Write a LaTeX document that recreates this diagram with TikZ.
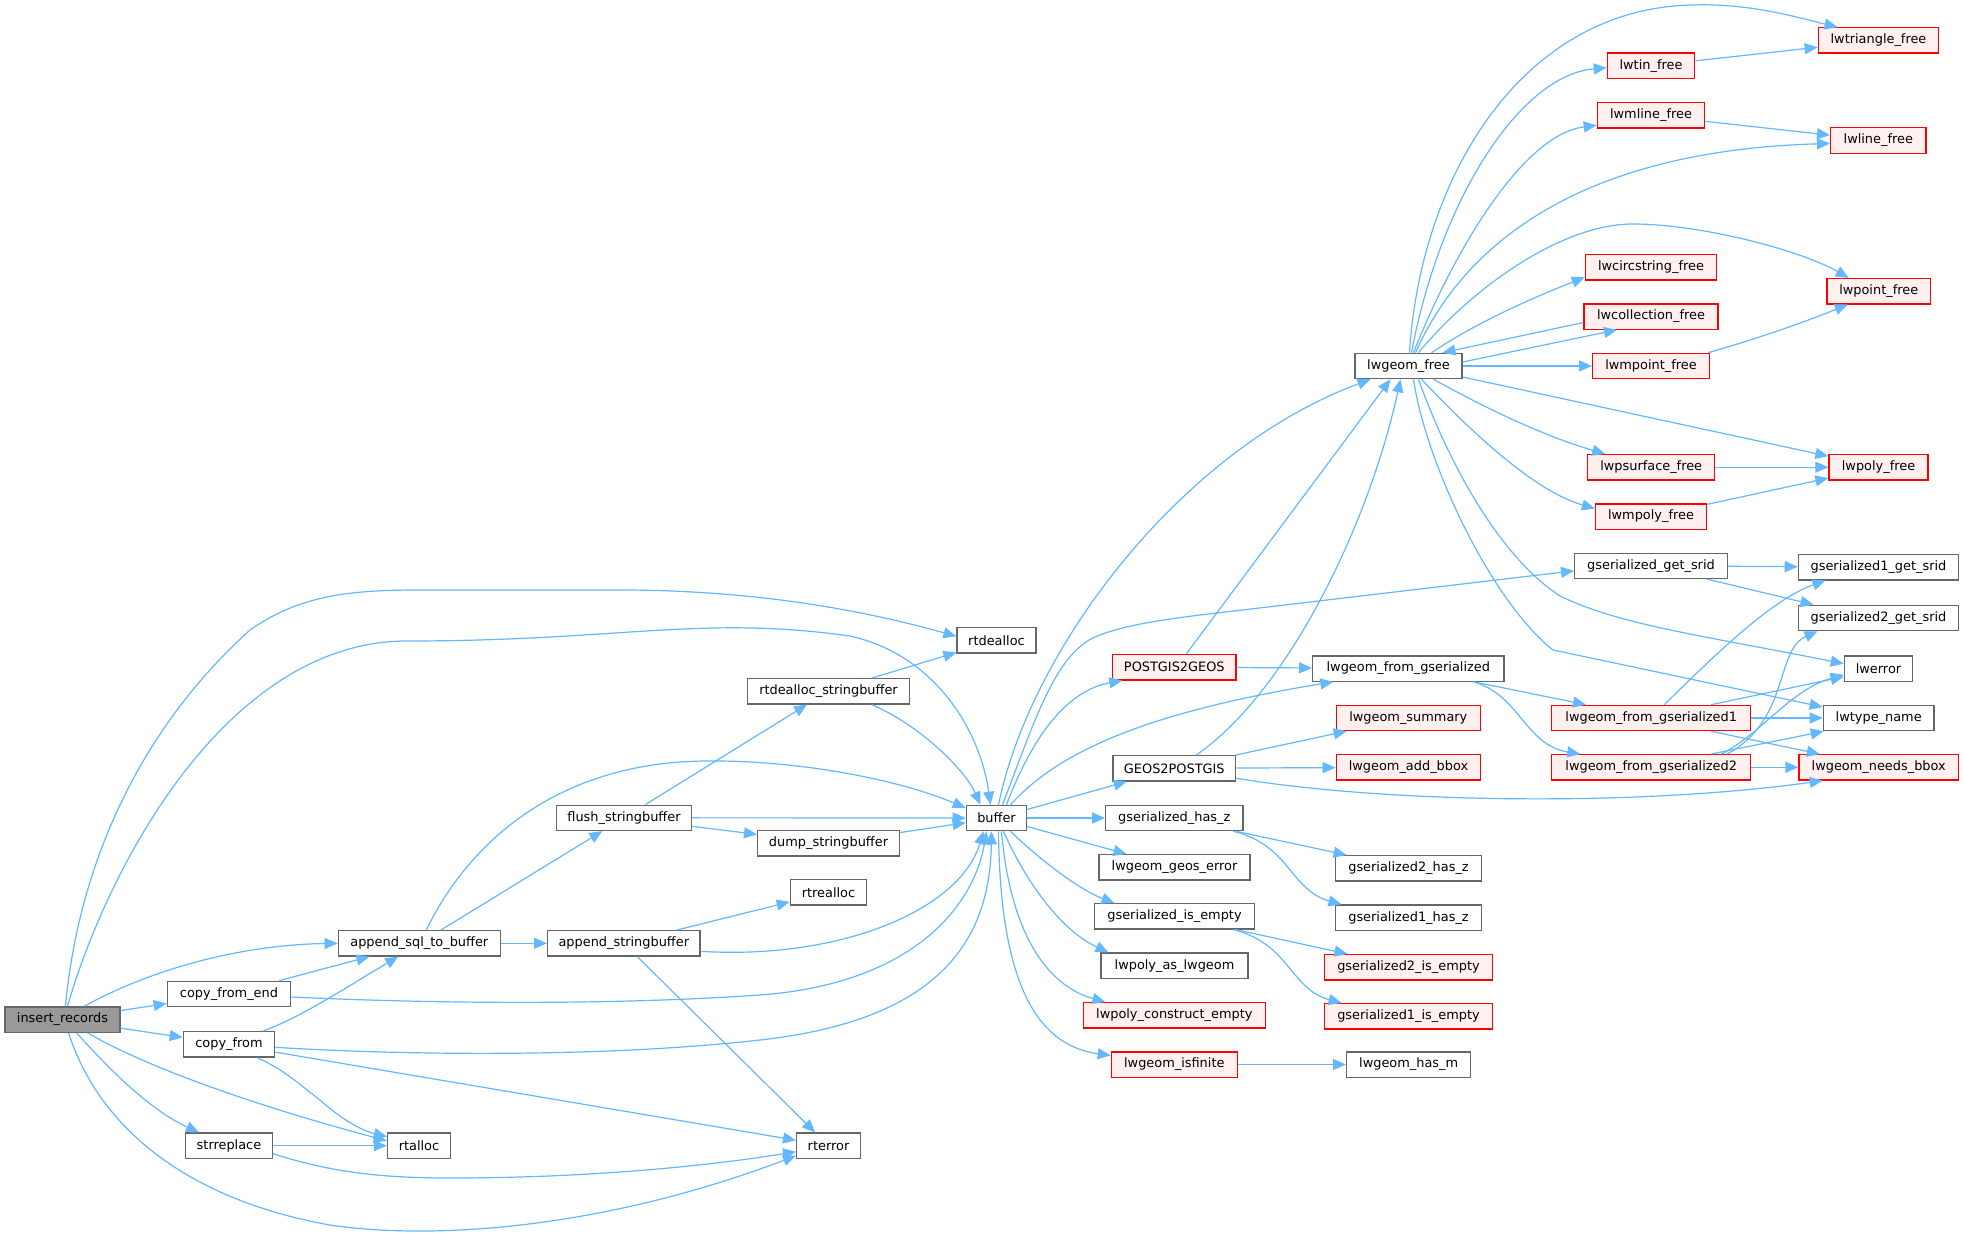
\documentclass[tikz,border=0pt]{standalone}
\usepackage{fontspec}
\setmainfont{DejaVu Sans}
\usetikzlibrary{arrows.meta}
\definecolor{edgecol}{HTML}{63B8FF}
\definecolor{boxgray}{HTML}{666666}
\definecolor{boxred}{HTML}{FF0000}
\definecolor{redfill}{HTML}{FFF0F0}
\definecolor{irfill}{HTML}{999999}
\begin{document}
\begin{tikzpicture}[x=1pt,y=-1pt,
  fn/.style={draw=boxgray, fill=white, line width=1.3pt, rectangle, minimum height=25.3pt, inner sep=0pt, font=\fontsize{12.9}{15}\selectfont, text=black},
  rfn/.style={fn, draw=boxred, fill=redfill},
  e/.style={draw=edgecol, line width=1.2pt, -{Triangle[length=13pt,width=11pt]}}]
\fill[white] (0,0) rectangle (1964,1236);
\useasboundingbox (0,0) rectangle (1964,1236);
% nodes
\node[fn, fill=irfill, minimum width=115pt] (ir) at (62.5,1019.5) {insert\_records};
\node[fn, minimum width=123.3pt] (cfe) at (229,994) {copy\_from\_end};
\node[fn, minimum width=91.3pt] (cf) at (229,1044.3) {copy\_from};
\node[fn, minimum width=87pt] (sr) at (229,1145.7) {strreplace};
\node[fn, minimum width=162pt] (asb) at (419.3,943.3) {append\_sql\_to\_buffer};
\node[fn, minimum width=63pt] (rta) at (419,1145.7) {rtalloc};
\node[fn, minimum width=79pt] (rtd) at (996.5,640.3) {rtdealloc};
\node[fn, minimum width=161.7pt] (rds) at (828.5,691.2) {rtdealloc\_stringbuffer};
\node[fn, minimum width=135.3pt] (fsb) at (624,817.8) {flush\_stringbuffer};
\node[fn, minimum width=141.7pt] (dsb) at (828.5,843.3) {dump\_stringbuffer};
\node[fn, minimum width=76.3pt] (rtr) at (828.5,892.2) {rtrealloc};
\node[fn, minimum width=152.3pt] (astb) at (623.8,943.3) {append\_stringbuffer};
\node[fn, minimum width=63.7pt] (rte) at (828.5,1145.7) {rterror};
\node[fn, minimum width=60.3pt] (buf) at (996.5,818) {buffer};
\node[rfn, minimum width=123.3pt] (p2g) at (1174.3,667.2) {POSTGIS2GEOS};
\node[fn, minimum width=122.7pt] (g2p) at (1174.3,768.3) {GEOS2POSTGIS};
\node[fn, minimum width=137.3pt] (ghz) at (1174.3,818) {gserialized\_has\_z};
\node[fn, minimum width=151pt] (lge) at (1174.5,867.3) {lwgeom\_geos\_error};
\node[fn, minimum width=160.3pt] (gie) at (1174.5,916.3) {gserialized\_is\_empty};
\node[fn, minimum width=147pt] (lpal) at (1174.5,965.7) {lwpoly\_as\_lwgeom};
\node[rfn, minimum width=182pt] (lpce) at (1174.3,1015.3) {lwpoly\_construct\_empty};
\node[rfn, minimum width=126pt] (lgi) at (1174.3,1064.5) {lwgeom\_isfinite};
\node[fn, minimum width=124pt] (lhm) at (1408.7,1064.5) {lwgeom\_has\_m};
\node[fn, minimum width=145.7pt] (g2hz) at (1408.5,868.3) {gserialized2\_has\_z};
\node[fn, minimum width=145.7pt] (g1hz) at (1408.5,917.7) {gserialized1\_has\_z};
\node[rfn, minimum width=168.3pt] (g2ie) at (1408.5,967.2) {gserialized2\_is\_empty};
\node[rfn, minimum width=168.3pt] (g1ie) at (1408.5,1016.3) {gserialized1\_is\_empty};
\node[fn, minimum width=191.3pt] (lfg) at (1408.3,668.5) {lwgeom\_from\_gserialized};
\node[rfn, minimum width=144pt] (lsum) at (1408.3,717.8) {lwgeom\_summary};
\node[rfn, minimum width=144.3pt] (lab) at (1408.5,767.3) {lwgeom\_add\_bbox};
\node[rfn, minimum width=199pt] (lfg1) at (1651.2,718) {lwgeom\_from\_gserialized1};
\node[rfn, minimum width=199pt] (lfg2) at (1651.2,767.3) {lwgeom\_from\_gserialized2};
\node[fn, minimum width=152.7pt] (ggs) at (1651,565.8) {gserialized\_get\_srid};
\node[fn, minimum width=160.3pt] (g1gs) at (1878.5,567.2) {gserialized1\_get\_srid};
\node[fn, minimum width=160.3pt] (g2gs) at (1878.5,618) {gserialized2\_get\_srid};
\node[fn, minimum width=68.3pt] (lwe) at (1878.5,668.7) {lwerror};
\node[fn, minimum width=110.7pt] (ltn) at (1878.7,718) {lwtype\_name};
\node[rfn, minimum width=159.3pt] (lnb) at (1878.7,767.3) {lwgeom\_needs\_bbox};
\node[fn, minimum width=107pt] (lgf) at (1408.5,366) {lwgeom\_free};
\node[rfn, minimum width=120.3pt] (ltri) at (1878.5,40.5) {lwtriangle\_free};
\node[rfn, minimum width=87.3pt] (ltin) at (1651,65.8) {lwtin\_free};
\node[rfn, minimum width=107.3pt] (lml) at (1651,115.3) {lwmline\_free};
\node[rfn, minimum width=95.3pt] (llf) at (1878.3,140.5) {lwline\_free};
\node[rfn, minimum width=131.3pt] (lcs) at (1651,267.3) {lwcircstring\_free};
\node[rfn, minimum width=103.3pt] (lpt) at (1878.7,291.2) {lwpoint\_free};
\node[rfn, minimum width=134pt] (lcol) at (1651,316.5) {lwcollection\_free};
\node[rfn, minimum width=116.7pt] (lmpt) at (1651,366) {lwmpoint\_free};
\node[rfn, minimum width=127pt] (lps) at (1651.2,467.2) {lwpsurface\_free};
\node[rfn, minimum width=99pt] (lpoly) at (1878.5,467.2) {lwpoly\_free};
\node[rfn, minimum width=111pt] (lmpoly) at (1651,516.5) {lwmpoly\_free};
% edges from insert_records
\draw[e] ([xshift=3pt]ir.north) .. controls (80,850) and (150,720) .. (250,630) .. controls (300,595) and (350,590) .. (420,590) -- (620,590) .. controls (760,590) and (870,612) .. ([yshift=4pt]rtd.west);
\draw[e] ([xshift=5pt]ir.north) .. controls (110,860) and (230,641) .. (407,641) .. controls (620,641) and (700,615) .. (850,636) .. controls (935,655) and (980,730) .. ([xshift=-6pt]buf.north);
\draw[e] ([xshift=22pt]ir.north) .. controls (140,975) and (230,945) .. (asb.west);
\draw[e] (ir) -- (cfe);
\draw[e] (ir) -- (cf);
\draw[e] ([xshift=14pt]ir.south) .. controls (110,1070) and (150,1110) .. ([xshift=-30pt]sr.north);
\draw[e] ([xshift=25pt]ir.south) .. controls (160,1075) and (290,1115) .. ([yshift=5pt]rta.west);
\draw[e] ([xshift=6pt]ir.south) .. controls (100,1130) and (190,1200) .. (330,1225) .. controls (430,1240) and (600,1230) .. ([yshift=-10pt]rte.west);
% second column
\draw[e] (cfe) -- (asb);
\draw[e] ([xshift=34pt]cf.north) .. controls (300,1018) and (350,985) .. ([xshift=-21pt]asb.south);
\draw[e] ([xshift=28pt]cf.south) .. controls (285,1070) and (300,1085) .. (320,1100) .. controls (340,1118) and (360,1130) .. ([yshift=9pt]rta.west);
\draw[e] (cf) -- (rte);
\draw[e] ([yshift=-3pt]cf.east) .. controls (400,1055) and (600,1058) .. (760,1040) .. controls (940,1020) and (990,940) .. ([xshift=-5pt]buf.south);
\draw[e] ([yshift=-3pt]cfe.east) .. controls (420,1003) and (600,1006) .. (760,995) .. controls (920,983) and (975,900) .. ([xshift=-10pt]buf.south);
\draw[e] (sr) -- (rta);
\draw[e] ([yshift=-8pt]sr.east) .. controls (330,1172) and (380,1178) .. (450,1178) .. controls (600,1178) and (720,1164) .. ([yshift=-6pt]rte.west);
% third column
\draw[e] ([xshift=7pt]asb.north) .. controls (470,840) and (560,762) .. (706,761) .. controls (800,760) and (900,780) .. ([yshift=10pt]buf.west);
\draw[e] (asb) -- (fsb);
\draw[e] (asb) -- (astb);
\draw[e] (fsb) -- (buf);
\draw[e] (fsb) -- (rds);
\draw[e] (fsb) -- (dsb);
\draw[e] (dsb) -- (buf);
\draw[e] ([xshift=43pt]rds.south) .. controls (920,725) and (965,770) .. ([xshift=-16pt]buf.north);
\draw[e] (rds) -- (rtd);
\draw[e] ([yshift=-8pt]astb.east) .. controls (840,960) and (960,910) .. ([xshift=-13pt]buf.south);
\draw[e] (astb) -- (rtr);
\draw[e] (astb) -- (rte);
% buffer outgoing
\draw[e] ([xshift=2pt]buf.north) .. controls (1030,650) and (1180,450) .. ([xshift=-38pt]lgf.south);
\draw[e] ([xshift=6pt]buf.north) .. controls (1035,720) and (1055,655) .. (1095,637) .. controls (1120,626) and (1160,620) .. (1200,615) -- ([yshift=-5pt]ggs.west);
\draw[e] ([xshift=10pt]buf.north) .. controls (1035,730) and (1070,690) .. ([xshift=-52pt]p2g.south);
\draw[e] ([xshift=14pt]buf.north) .. controls (1060,750) and (1150,712) .. ([xshift=-75pt]lfg.south);
\draw[e] (buf) -- (g2p);
\draw[e] (buf) -- (ghz);
\draw[e] (buf) -- (lge);
\draw[e] ([xshift=14pt]buf.south) .. controls (1040,860) and (1080,890) .. ([xshift=-60pt]gie.north);
\draw[e] ([xshift=7pt]buf.south) .. controls (1025,880) and (1060,930) .. ([xshift=-66pt]lpal.north);
\draw[e] ([xshift=5pt]buf.south) .. controls (1010,930) and (1045,985) .. ([xshift=-69pt]lpce.north);
\draw[e] ([xshift=2pt]buf.south) .. controls (1000,980) and (1035,1045) .. ([yshift=9pt]lgi.west);
% fourth column
\draw[e] (p2g) -- (lfg);
\draw[e] ([xshift=12pt]p2g.north) -- ([xshift=-18pt]lgf.south);
\draw[e] ([xshift=22pt]g2p.north) .. controls (1290,690) and (1370,520) .. ([xshift=-8pt]lgf.south);
\draw[e] (g2p) -- (lsum);
\draw[e] (g2p) -- (lab);
\draw[e] ([yshift=-10pt]g2p.east) .. controls (1400,805) and (1650,805) .. ([xshift=-56pt]lnb.south);
\draw[e] (ghz) -- (g2hz);
\draw[e] ([xshift=59pt]ghz.south) .. controls (1290,845) and (1290,890) .. ([xshift=-67pt]g1hz.north);
\draw[e] (gie) -- (g2ie);
\draw[e] ([xshift=59pt]gie.south) .. controls (1290,944) and (1290,989) .. ([xshift=-67pt]g1ie.north);
\draw[e] (lgi) -- (lhm);
% lwgeom_from_gserialized family
\draw[e] (lfg) -- (lfg1);
\draw[e] ([xshift=65pt]lfg.south) .. controls (1520,695) and (1525,745) .. ([xshift=-71pt]lfg2.north);
\draw[e] ([xshift=13pt]lfg1.north) .. controls (1710,660) and (1770,600) .. ([xshift=-53pt]g1gs.south);
\draw[e] ([xshift=60pt]lfg1.north) -- ([yshift=-8pt]lwe.west);
\draw[e] (lfg1) -- (ltn);
\draw[e] ([xshift=60pt]lfg1.south) -- ([xshift=-59pt]lnb.north);
\draw[e] (lfg2) -- (lnb);
\draw[e] ([xshift=60pt]lfg2.north) -- ([xshift=1pt]ltn.south west);
\draw[e] ([xshift=70pt]lfg2.north) .. controls (1760,735) and (1790,690) .. ([yshift=-6pt]lwe.west);
\draw[e] ([xshift=76pt]lfg2.north) .. controls (1790,720) and (1775,650) .. ([xshift=-61pt]g2gs.south);
\draw[e] (ggs) -- (g1gs);
\draw[e] ([xshift=56pt]ggs.south) -- ([xshift=-65pt]g2gs.north);
% lwgeom_free
\draw[e] ([xshift=1pt]lgf.north) .. controls (1420,180) and (1520,8) .. (1693,5) .. controls (1750,3) and (1800,18) .. ([xshift=-41pt]ltri.north);
\draw[e] ([xshift=3pt]lgf.north) .. controls (1440,200) and (1520,75) .. ([yshift=-2pt]ltin.west);
\draw[e] ([xshift=5pt]lgf.north) .. controls (1450,260) and (1520,135) .. ([yshift=-10pt]lml.west);
\draw[e] ([xshift=7pt]lgf.north) .. controls (1470,230) and (1600,150) .. ([yshift=-3pt]llf.west);
\draw[e] ([xshift=10pt]lgf.north) .. controls (1470,290) and (1560,224) .. (1633,224) .. controls (1700,224) and (1800,250) .. ([xshift=-30pt]lpt.north);
\draw[e] ([xshift=23pt]lgf.north) .. controls (1480,320) and (1540,295) .. ([yshift=-10pt]lcs.west);
\draw[e] ([yshift=-6pt]lcol.west) -- ([xshift=34pt]lgf.north);
\draw[e] ([yshift=4pt]lgf.east) -- ([xshift=-34pt]lcol.south);
\draw[e] (lgf) -- (lmpt);
\draw[e] ([yshift=-11pt]lgf.east) -- ([yshift=11pt]lpoly.west);
\draw[e] ([xshift=25pt]lgf.south) .. controls (1480,405) and (1540,435) .. ([xshift=-46pt]lps.north);
\draw[e] ([xshift=13pt]lgf.south) .. controls (1460,420) and (1530,490) .. ([yshift=8pt]lmpoly.west);
\draw[e] ([xshift=10pt]lgf.south) .. controls (1440,440) and (1490,550) .. (1560,596) .. controls (1620,625) and (1700,635) .. ([yshift=5pt]lwe.west);
\draw[e] ([xshift=5pt]lgf.south) .. controls (1425,460) and (1490,600) .. (1553,650) -- ([yshift=11pt]ltn.west);
\draw[e] (ltin) -- (ltri);
\draw[e] (lml) -- (llf);
\draw[e] ([xshift=57pt]lmpt.north) .. controls (1760,338) and (1810,320) .. ([xshift=-31pt]lpt.south);
\draw[e] (lps) -- (lpoly);
\draw[e] (lmpoly) -- (lpoly);
\end{tikzpicture}
\end{document}
